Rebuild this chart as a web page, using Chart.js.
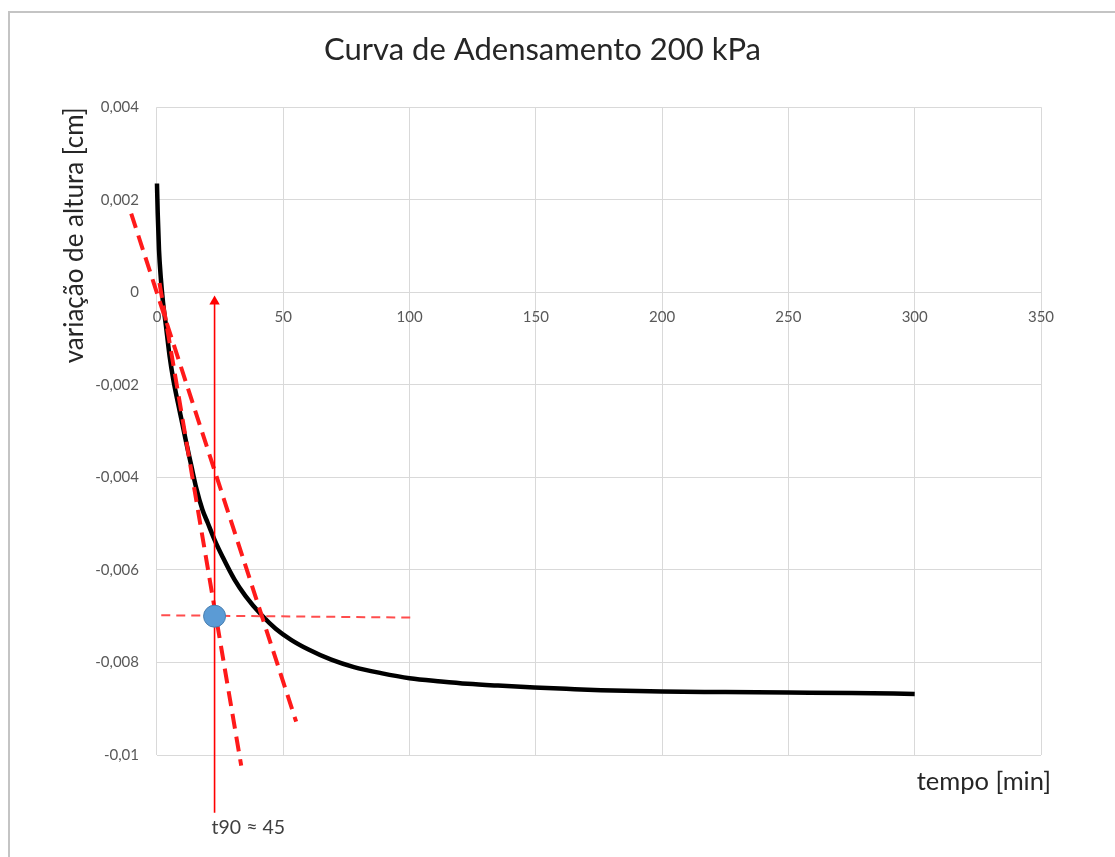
<!DOCTYPE html>
<html>
<head>
<meta charset="utf-8">
<title>Curva de Adensamento 200 kPa</title>
<script src="https://cdn.jsdelivr.net/npm/chart.js@4.4.1/dist/chart.umd.min.js"></script>
<style>
  html, body { margin: 0; padding: 0; background: #fff; }
  #wrap { width: 1115px; height: 857px; position: relative; }
</style>
</head>
<body>
<div id="wrap"><canvas id="adensamento"></canvas></div>
<script>
// leituras do extensômetro: tempo [min] x variação de altura [cm]
const tempo = [0, 0.3, 0.8, 1.5, 2.4, 3.5, 5, 6.5, 8.3, 10, 11.6, 13.6, 15.5, 18, 20, 22.8,
  26, 30.7, 35, 41.3, 47, 53.1, 60, 69, 78, 88.7, 100, 112.5, 123, 135, 149.4, 162, 175.8,
  200, 225, 250, 275, 300];
const variacao = [0.00235, 0.0017, 0.00092, 0.00032, -0.00022, -0.0007, -0.00138, -0.0019,
  -0.00239, -0.00283, -0.00325, -0.00375, -0.00422, -0.0047, -0.00497, -0.00535,
  -0.00572, -0.00621, -0.00656, -0.00697, -0.00727, -0.00751, -0.00772, -0.00794, -0.0081,
  -0.00823, -0.00834, -0.00841, -0.00846, -0.0085, -0.00854, -0.00857, -0.0086,
  -0.00863, -0.00864, -0.00865, -0.00866, -0.00868];

// construção gráfica: tangente inicial e reta com abscissas 1,15x
const tangente_t = [1.0, 33.35];
const tangente_y = [0.0002, -0.01023];
const reta115_t = [-10.2, 55.1];
const reta115_y = [0.0017, -0.00928];
const horizontal_t = [1.7, 100.7];
const horizontal_y = [-0.00698, -0.00703];
const seta_y = [-0.01125, -0.0002];
const t90 = 22.8;
const alt90 = -0.007;

const pares = (xs, ys) => xs.map((x, i) => ({ x, y: ys[i] }));
const fmt = v => String(+v.toFixed(3)).replace('.', ',');

const FONTE = 'Lato, "Open Sans", sans-serif';

// moldura cinza da área do gráfico
const moldura = {
  id: 'moldura',
  beforeDraw(chart) {
    const c = chart.ctx;
    c.save();
    c.strokeStyle = '#c4c4c4';
    c.lineWidth = 2;
    c.beginPath();
    c.moveTo(9, chart.height + 5);
    c.lineTo(9, 12);
    c.lineTo(chart.width + 5, 12);
    c.stroke();
    c.restore();
  }
};

// textos soltos: t90 embaixo da seta e título do eixo do tempo
const rotulos = {
  id: 'rotulos',
  afterDraw(chart) {
    const c = chart.ctx;
    const area = chart.chartArea;
    const x = chart.scales.x.getPixelForValue(t90);
    const y = chart.scales.y.getPixelForValue(seta_y[0]);
    c.save();
    c.font = '19.5px ' + FONTE;
    c.fillStyle = '#404040';
    c.textAlign = 'left';
    c.textBaseline = 'middle';
    c.fillText('t90 ≈ 45', x - 3, y + 15);
    c.font = '25.5px ' + FONTE;
    c.fillStyle = '#262626';
    c.textAlign = 'right';
    c.fillText('tempo [min]', area.right + 10, area.bottom + 27);
    c.restore();
  }
};

new Chart(document.getElementById('adensamento'), {
  type: 'line',
  data: {
    datasets: [
      { // ponto do t90
        data: [{ x: t90, y: alt90 }],
        showLine: false, pointRadius: 11, pointBackgroundColor: '#5b9bd5',
        pointBorderColor: '#4a7fb0', pointBorderWidth: 1, order: 0
      },
      { // seta vertical
        data: seta_y.map(y => ({ x: t90, y })),
        borderColor: '#ff0000', borderWidth: 1.6,
        pointStyle: 'triangle', pointRadius: [0, 6], pointBackgroundColor: '#ff0000',
        pointBorderColor: '#ff0000', pointBorderWidth: 0, clip: false, order: 1
      },
      {
        data: pares(tangente_t, tangente_y),
        borderColor: '#ff1a1a', borderWidth: 4, borderDash: [15, 8],
        pointRadius: 0, clip: false, order: 2
      },
      {
        data: pares(reta115_t, reta115_y),
        borderColor: '#ff1a1a', borderWidth: 4, borderDash: [15, 8],
        pointRadius: 0, clip: false, order: 2
      },
      {
        data: pares(horizontal_t, horizontal_y),
        borderColor: '#ff4d4d', borderWidth: 2, borderDash: [9, 6],
        pointRadius: 0, clip: false, order: 3
      },
      { // curva de adensamento
        data: pares(tempo, variacao),
        borderColor: '#000000', borderWidth: 4.5, cubicInterpolationMode: 'monotone',
        pointRadius: 0, clip: false, order: 5
      }
    ]
  },
  options: {
    responsive: true,
    maintainAspectRatio: false,
    animation: false,
    layout: { padding: { left: 44, right: 74, top: 0, bottom: 102 } },
    plugins: {
      legend: { display: false },
      tooltip: { enabled: false },
      title: {
        display: true,
        text: 'Curva de Adensamento 200 kPa',
        color: '#262626',
        font: { family: FONTE, size: 31, weight: 'normal' },
        padding: { top: 31, bottom: 39 }
      }
    },
    scales: {
      x: {
        type: 'linear', min: 0, max: 350,
        ticks: { display: false, stepSize: 50 },
        grid: { color: '#d9d9d9', drawTicks: false },
        border: { display: false }
      },
      x2: {
        type: 'linear', axis: 'x', position: { y: 0 }, min: 0, max: 350,
        ticks: { stepSize: 50, color: '#595959', padding: 8, font: { family: FONTE, size: 15 } },
        grid: { display: false },
        border: { display: false }
      },
      y: {
        min: -0.01, max: 0.004,
        ticks: { stepSize: 0.002, callback: fmt, color: '#595959', padding: 18,
          font: { family: FONTE, size: 15 } },
        grid: { color: '#d9d9d9', drawTicks: false },
        border: { display: false },
        title: {
          display: true, text: 'variação de altura [cm]', align: 'end', color: '#262626',
          font: { family: FONTE, size: 26 }, padding: { top: 15, bottom: -13 }
        }
      }
    }
  },
  plugins: [moldura, rotulos]
});
</script>
</body>
</html>
